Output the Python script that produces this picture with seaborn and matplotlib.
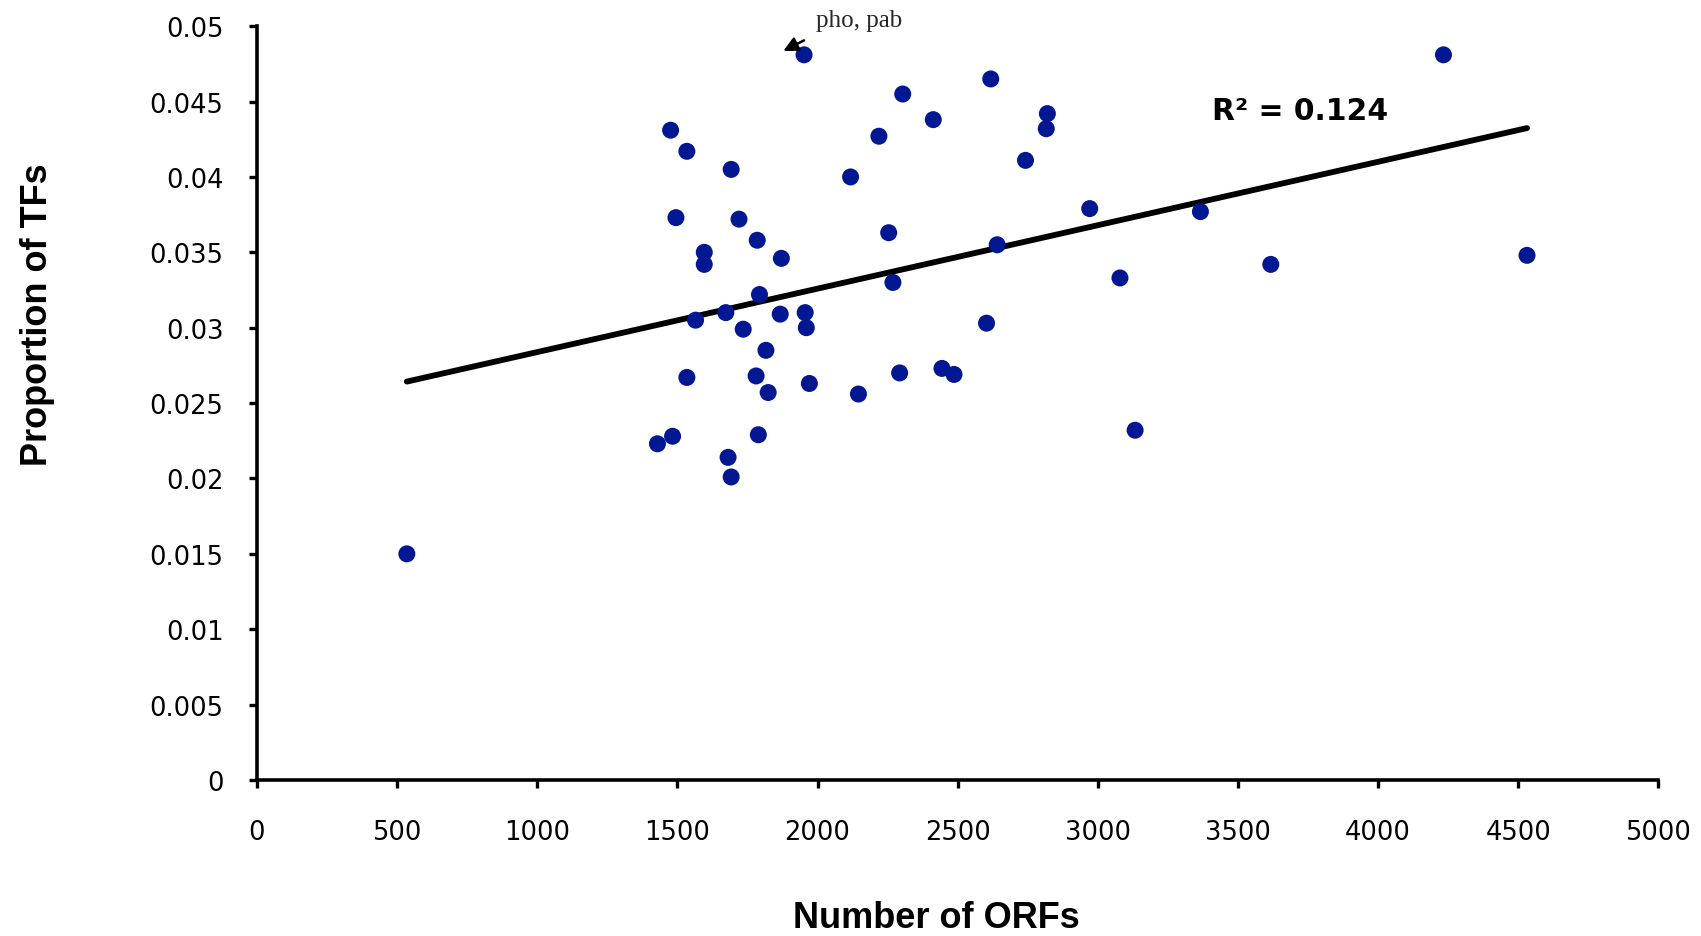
import numpy as np
import pandas as pd
import matplotlib
matplotlib.use("Agg")
import matplotlib.pyplot as plt
import seaborn as sns

# ---- data ----
num_orfs = [535, 1429, 1483, 1476, 1534, 1495, 1596, 1596, 1565, 1534,
            1692, 1720, 1673, 1735, 1681, 1692, 1785, 1793, 1816, 1781,
            1824, 1789, 1871, 1867, 1952, 1956, 1960, 1971, 2118, 2146,
            2219, 2254, 2269, 2304, 2293, 2413, 2444, 2487, 2603, 2618,
            2641, 2742, 2820, 2816, 2971, 3079, 3133, 3366, 3617, 4233,
            4531]
prop_tfs = [0.0150, 0.0223, 0.0228, 0.0431, 0.0417, 0.0373, 0.0350, 0.0342, 0.0305, 0.0267,
            0.0405, 0.0372, 0.0310, 0.0299, 0.0214, 0.0201, 0.0358, 0.0322, 0.0285, 0.0268,
            0.0257, 0.0229, 0.0346, 0.0309, 0.0481, 0.0310, 0.0300, 0.0263, 0.0400, 0.0256,
            0.0427, 0.0363, 0.0330, 0.0455, 0.0270, 0.0438, 0.0273, 0.0269, 0.0303, 0.0465,
            0.0355, 0.0411, 0.0442, 0.0432, 0.0379, 0.0333, 0.0232, 0.0377, 0.0342, 0.0481,
            0.0348]
x_ticks = [0, 500, 1000, 1500, 2000, 2500, 3000, 3500, 4000, 4500, 5000]
x_tick_labels = ["0", "500", "1000", "1500", "2000", "2500", "3000", "3500", "4000", "4500", "5000"]
y_ticks = [0, 0.005, 0.01, 0.015, 0.02, 0.025, 0.03, 0.035, 0.04, 0.045, 0.05]
y_tick_labels = ["0", "0.005", "0.01", "0.015", "0.02", "0.025", "0.03", "0.035", "0.04", "0.045", "0.05"]
r2_text = "R\u00b2 = 0.124"
note_text = "pho, pab"
note_arrow_head = (1878, 0.04835)
note_arrow_tail = (1952, 0.04906)
note_pos = (1995, 0.0504)
r2_pos = (3408, 0.0444)

df = pd.DataFrame({"orfs": num_orfs, "prop": prop_tfs})

sns.set_style("white")
plt.rcParams["font.family"] = ["DejaVu Sans"]

fig = plt.figure(figsize=(17.01, 9.37), dpi=100)
ax = fig.add_axes([0.151, 0.1665, 0.824, 0.8045])

dot_color = "#021893"
sns.scatterplot(data=df, x="orfs", y="prop", ax=ax, color=dot_color, s=150,
                edgecolor="none", linewidth=0, zorder=3)
sns.regplot(data=df, x="orfs", y="prop", ax=ax, scatter=False, ci=None,
            line_kws=dict(color="black", lw=4.2, solid_capstyle="round", zorder=2))

ax.set_xlim(0, 5000)
ax.set_ylim(0, 0.05)
ax.set_xticks(x_ticks)
ax.set_xticklabels(x_tick_labels)
ax.set_yticks(y_ticks)
ax.set_yticklabels(y_tick_labels)

for side in ["top", "right"]:
    ax.spines[side].set_visible(False)
for side in ["left", "bottom"]:
    ax.spines[side].set_color("black")
    ax.spines[side].set_linewidth(2.6)
    ax.spines[side].set_capstyle("projecting")

ax.tick_params(axis="both", which="major", direction="out", length=6, width=2.4,
               color="black", labelsize=18.5, labelcolor="black",
               bottom=True, left=True)
ax.tick_params(axis="x", pad=22)
ax.tick_params(axis="y", pad=18)

ax.set_xlabel("Number of ORFs", fontsize=26, fontweight="bold", color="black",
              family=["Liberation Sans"], labelpad=40)
ax.set_ylabel("Proportion of TFs", fontsize=26, fontweight="bold", color="black",
              family=["Liberation Sans"], labelpad=68)
ax.xaxis.label.set_x(0.485)
ax.yaxis.label.set_y(0.619)

ax.text(r2_pos[0], r2_pos[1], r2_text, fontsize=21.5, fontweight="bold",
        ha="left", va="center", color="black")
ax.text(note_pos[0], note_pos[1], note_text, fontsize=18,
        family=["Liberation Serif"], ha="left", va="center", clip_on=False)
ax.annotate("", xy=note_arrow_head, xytext=note_arrow_tail,
            arrowprops=dict(arrowstyle="-|>", color="black", lw=1.8,
                            mutation_scale=22, shrinkA=0, shrinkB=0),
            annotation_clip=False)

fig.savefig("out.png", dpi=100, facecolor="white")
